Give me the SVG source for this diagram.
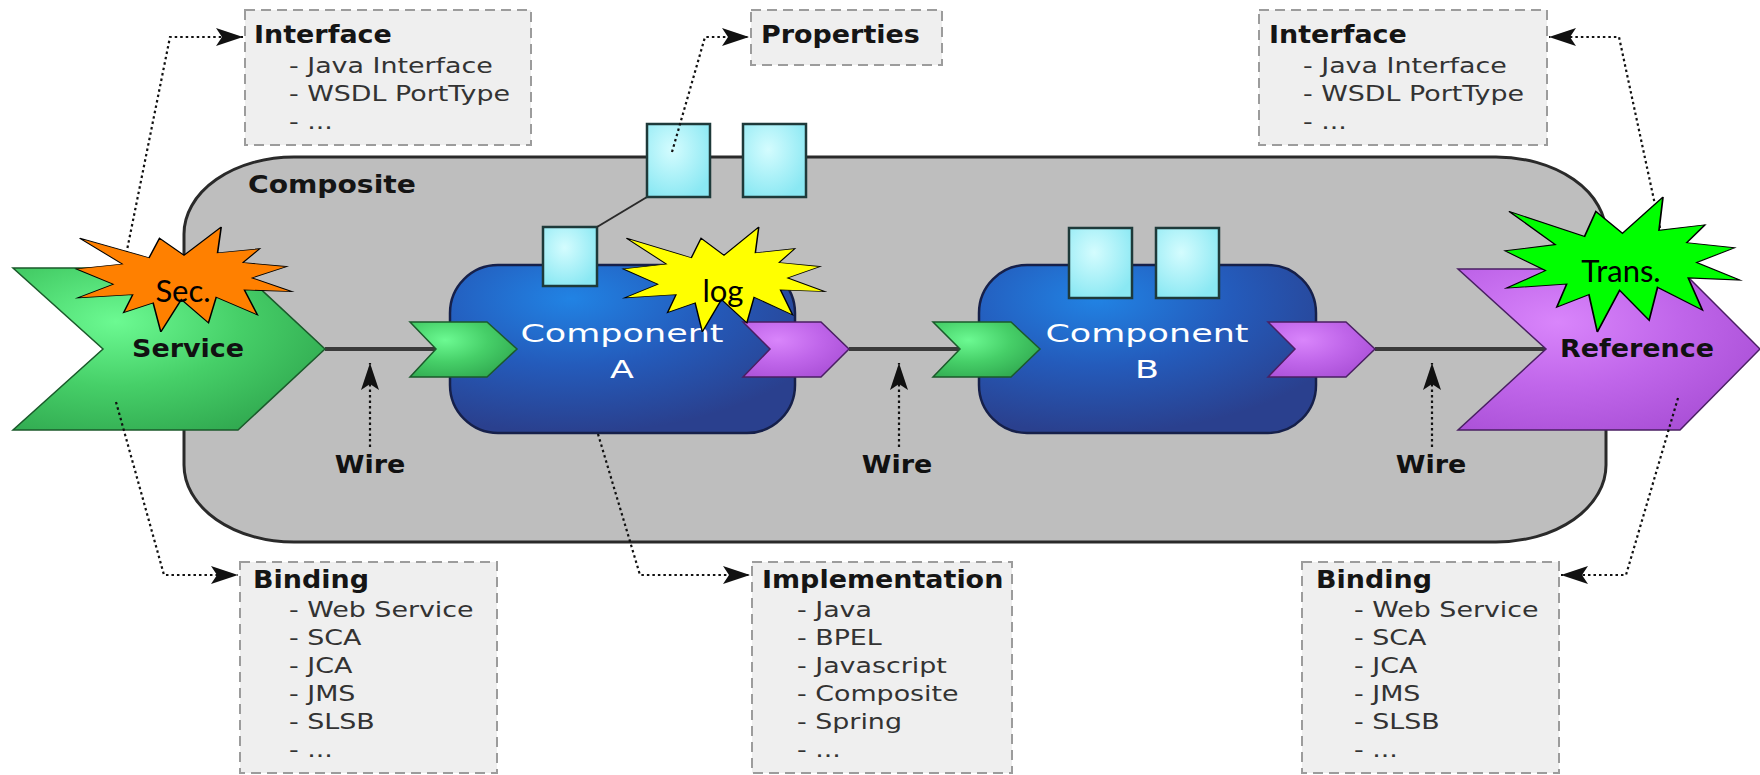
<svg xmlns="http://www.w3.org/2000/svg" xmlns:xlink="http://www.w3.org/1999/xlink" width="1760" height="775" viewBox="0 0 1760 775">
<style>
.box{fill:#efefef;stroke:#9c9c9c;stroke-width:2;stroke-dasharray:10 6}
.ttl{font-family:"DejaVu Sans",sans-serif;font-weight:bold;font-size:24.5px;fill:#151515}
.itm{font-family:"DejaVu Sans",sans-serif;font-size:21.5px;fill:#333}
.lbl{font-family:"DejaVu Sans",sans-serif;font-weight:bold;font-size:24.5px;fill:#111;text-anchor:middle}
.cmp{font-family:"DejaVu Sans",sans-serif;font-size:25px;fill:#fff;text-anchor:middle}
.st{font-family:Lato,"Open Sans",sans-serif;font-size:31px;fill:#000;text-anchor:middle}
.dot{fill:none;stroke:#111;stroke-width:2.2;stroke-dasharray:2.5 3}
.wire{fill:none;stroke:#3a3a3a;stroke-width:4}
.prop{fill:url(#gCyan);stroke:#1e3a3a;stroke-width:2.5}
.comp{fill:url(#gBlue);stroke:#16204a;stroke-width:2.5}
.grn{fill:url(#gGreen);stroke:#1b5a2b;stroke-width:1.5}
.pur{fill:url(#gPurple);stroke:#4a1f63;stroke-width:1.5}
.starp{stroke:#000;stroke-width:1.6;vector-effect:non-scaling-stroke}
</style>
<defs>
<radialGradient id="gBlue" cx="0.35" cy="0.2" r="0.8">
<stop offset="0" stop-color="#2183e4"/>
<stop offset="0.5" stop-color="#245bbb"/>
<stop offset="1" stop-color="#2a408e"/>
</radialGradient>
<radialGradient id="gGreen" cx="0.33" cy="0.33" r="0.8">
<stop offset="0" stop-color="#6cfa92"/>
<stop offset="0.5" stop-color="#46cf68"/>
<stop offset="1" stop-color="#2fa64e"/>
</radialGradient>
<radialGradient id="gPurple" cx="0.33" cy="0.33" r="0.8">
<stop offset="0" stop-color="#d985fb"/>
<stop offset="0.5" stop-color="#c066ea"/>
<stop offset="1" stop-color="#a84ed5"/>
</radialGradient>
<radialGradient id="gCyan" cx="0.4" cy="0.35" r="0.7">
<stop offset="0" stop-color="#d4fcfe"/>
<stop offset="1" stop-color="#8ae8f3"/>
</radialGradient>
<path id="star" d="M108,58 L145.22,0 L141.55,53.25 L183.8,44.57 L167.02,73.15 L210.97,81.37 L176.07,104.75 L216,132.9 L168.37,129.42 L181.45,180.95 L140.2,144.57 L132.47,197.37 L105.32,149.35 L84.85,216 L77.15,156.27 L47.62,176.17 L56.67,139.37 L1.35,145.87 L37.22,117.75 L0,86.15 L46.27,76.17 L3.7,22.95 L73.12,63.2 L83.52,22.95 Z"/>
<marker id="arr" markerUnits="userSpaceOnUse" viewBox="-29 -10 30 20" markerWidth="30" markerHeight="20" refX="0" refY="0" orient="auto">
<path d="M0,0 L-27,-9 L-21,0 L-27,9 Z" fill="#111"/>
</marker>
</defs>
<rect width="1760" height="775" fill="#fff"/>

<g id="composite">
<rect x="184" y="157" width="1422" height="385" rx="110" ry="77" fill="#bebebe" stroke="#2a2a2a" stroke-width="3"/>
<text class="ttl" transform="matrix(1.15 0 0 1 248 193)">Composite</text>
</g>

<g id="info-interface-left">
<rect class="box" x="245" y="10" width="286" height="135"/>
<text class="ttl" transform="matrix(1.1 0 0 1 254 43)">Interface</text>
<text class="itm" transform="matrix(1.25 0 0 1 289 73)">- Java Interface</text>
<text class="itm" transform="matrix(1.25 0 0 1 289 101)">- WSDL PortType</text>
<text class="itm" transform="matrix(1.25 0 0 1 289 129)">- ...</text>
</g>
<g id="info-properties">
<rect class="box" x="751" y="10" width="191" height="55"/>
<text class="ttl" transform="matrix(1.1 0 0 1 761 43)">Properties</text>
</g>
<g id="info-interface-right">
<rect class="box" x="1259" y="10" width="288" height="135"/>
<text class="ttl" transform="matrix(1.1 0 0 1 1269 43)">Interface</text>
<text class="itm" transform="matrix(1.25 0 0 1 1303 73)">- Java Interface</text>
<text class="itm" transform="matrix(1.25 0 0 1 1303 101)">- WSDL PortType</text>
<text class="itm" transform="matrix(1.25 0 0 1 1303 129)">- ...</text>
</g>
<g id="info-binding-left">
<rect class="box" x="240" y="562" width="257" height="211"/>
<text class="ttl" transform="matrix(1.1 0 0 1 253 588)">Binding</text>
<text class="itm" transform="matrix(1.25 0 0 1 289 617)">- Web Service</text>
<text class="itm" transform="matrix(1.25 0 0 1 289 645)">- SCA</text>
<text class="itm" transform="matrix(1.25 0 0 1 289 673)">- JCA</text>
<text class="itm" transform="matrix(1.25 0 0 1 289 701)">- JMS</text>
<text class="itm" transform="matrix(1.25 0 0 1 289 729)">- SLSB</text>
<text class="itm" transform="matrix(1.25 0 0 1 289 757)">- ...</text>
</g>
<g id="info-implementation">
<rect class="box" x="752" y="562" width="260" height="211"/>
<text class="ttl" transform="matrix(1.1 0 0 1 762 588)">Implementation</text>
<text class="itm" transform="matrix(1.25 0 0 1 797 617)">- Java</text>
<text class="itm" transform="matrix(1.25 0 0 1 797 645)">- BPEL</text>
<text class="itm" transform="matrix(1.25 0 0 1 797 673)">- Javascript</text>
<text class="itm" transform="matrix(1.25 0 0 1 797 701)">- Composite</text>
<text class="itm" transform="matrix(1.25 0 0 1 797 729)">- Spring</text>
<text class="itm" transform="matrix(1.25 0 0 1 797 757)">- ...</text>
</g>
<g id="info-binding-right">
<rect class="box" x="1302" y="562" width="257" height="211"/>
<text class="ttl" transform="matrix(1.1 0 0 1 1316 588)">Binding</text>
<text class="itm" transform="matrix(1.25 0 0 1 1354 617)">- Web Service</text>
<text class="itm" transform="matrix(1.25 0 0 1 1354 645)">- SCA</text>
<text class="itm" transform="matrix(1.25 0 0 1 1354 673)">- JCA</text>
<text class="itm" transform="matrix(1.25 0 0 1 1354 701)">- JMS</text>
<text class="itm" transform="matrix(1.25 0 0 1 1354 729)">- SLSB</text>
<text class="itm" transform="matrix(1.25 0 0 1 1354 757)">- ...</text>
</g>

<g id="wires">
<path class="wire" d="M325,349 H440"/>
<path class="wire" d="M849,349 H964"/>
<path class="wire" d="M1375,349 H1550"/>
</g>

<g id="service">
<path class="grn" d="M13,268 L238,268 L325,349 L238,430 L13,430 L103,349 Z"/>
<text class="lbl" transform="matrix(1.1 0 0 1 188 357)">Service</text>
</g>
<g id="reference">
<path class="pur" d="M1458,269 L1680,269 L1760,349 L1680,430 L1458,430 L1546,349 Z"/>
<text class="lbl" transform="matrix(1.1 0 0 1 1637 357)">Reference</text>
</g>

<g id="component-a">
<rect class="comp" x="450" y="265" width="345" height="168" rx="48"/>
<text class="cmp" transform="matrix(1.4 0 0 1 622 342)">Component</text>
<text class="cmp" transform="matrix(1.4 0 0 1 622 378)">A</text>
<path class="grn" d="M410,322 L487,322 L517,349 L487,377 L410,377 L436,349 Z"/>
<path class="pur" d="M743,322 L821,322 L849,349 L821,377 L743,377 L770,349 Z"/>
<rect class="prop" x="543" y="227" width="54" height="59"/>
</g>
<g id="component-b">
<rect class="comp" x="979" y="265" width="337" height="168" rx="48"/>
<text class="cmp" transform="matrix(1.4 0 0 1 1147 342)">Component</text>
<text class="cmp" transform="matrix(1.4 0 0 1 1147 378)">B</text>
<path class="grn" d="M933,322 L1011,322 L1040,349 L1011,377 L933,377 L960,349 Z"/>
<path class="pur" d="M1268,322 L1346,322 L1375,349 L1346,377 L1268,377 L1295,349 Z"/>
<rect class="prop" x="1069" y="228" width="63" height="70"/>
<rect class="prop" x="1156" y="228" width="63" height="70"/>
</g>
<g id="composite-properties">
<path d="M597,227 L647,197" stroke="#2a2a2a" stroke-width="2" fill="none"/>
<rect class="prop" x="647" y="124" width="63" height="73"/>
<rect class="prop" x="743" y="124" width="63" height="73"/>
</g>

<g id="connectors">
<path class="dot" d="M122,275 L170,37 H243" marker-end="url(#arr)"/>
<path class="dot" d="M116,402 L164,575 H238" marker-end="url(#arr)"/>
<path class="dot" d="M598,434 L640,575 H750" marker-end="url(#arr)"/>
<path class="dot" d="M1678,398 L1626,575 H1561" marker-end="url(#arr)"/>
<path class="dot" d="M1660,228 L1619,37 H1549" marker-end="url(#arr)"/>
<path class="dot" d="M672,152 L705,37 H749" marker-end="url(#arr)"/>
<path class="dot" d="M370,447 V363" marker-end="url(#arr)"/>
<path class="dot" d="M899,447 V363" marker-end="url(#arr)"/>
<path class="dot" d="M1432,447 V363" marker-end="url(#arr)"/>
</g>

<g id="wire-labels">
<text class="lbl" transform="matrix(1.1 0 0 1 370 473)">Wire</text>
<text class="lbl" transform="matrix(1.1 0 0 1 897 473)">Wire</text>
<text class="lbl" transform="matrix(1.1 0 0 1 1431 473)">Wire</text>
</g>

<g id="star-sec">
<use xlink:href="#star" href="#star" class="starp" fill="#ff8000" transform="translate(76,227) scale(1,0.486)"/>
<text class="st" x="183" y="302">Sec.</text>
</g>
<g id="star-log">
<use xlink:href="#star" href="#star" class="starp" fill="#ffff00" transform="translate(623,227) scale(0.935,0.486)"/>
<text class="st" x="723" y="302">log</text>
</g>
<g id="star-trans">
<use xlink:href="#star" href="#star" class="starp" fill="#00ff00" transform="translate(1505,197) scale(1.088,0.625)"/>
<text class="st" x="1621" y="282">Trans.</text>
</g>
</svg>
